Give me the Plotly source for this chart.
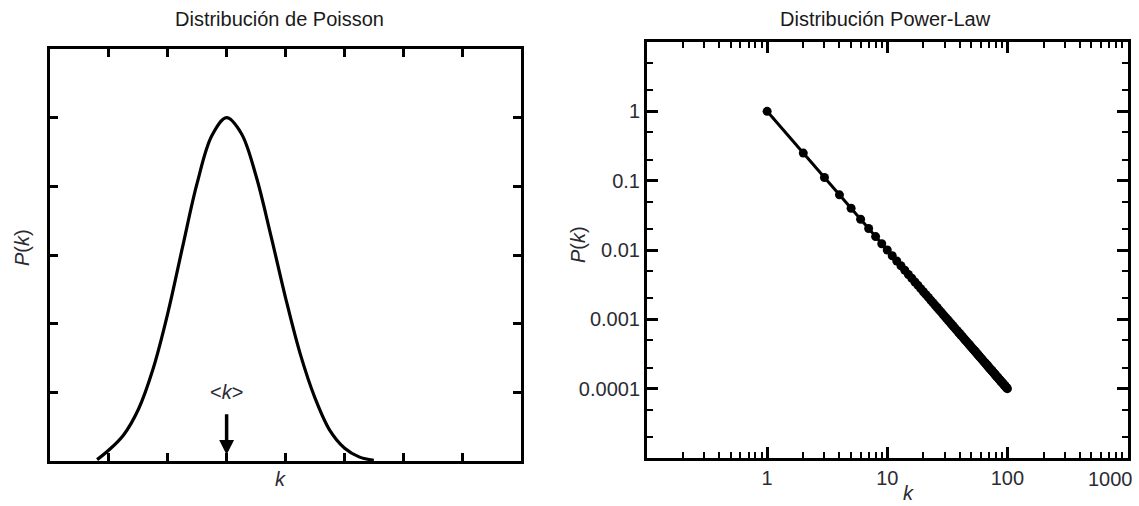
import plotly.graph_objects as go

W, H = 1139, 506

# ---- Left panel: Poisson-like bell curve (axis units: x 0..8, y 0..6) ----
pois_k = [0.8, 1.0, 1.25, 1.5, 1.75, 2.0, 2.25, 2.5, 2.75, 3.0,
          3.25, 3.5, 3.75, 4.0, 4.25, 4.5, 4.75, 5.0, 5.25, 5.5]
pois_p = [0.02, 0.16, 0.38, 0.75, 1.34, 2.15, 3.11, 4.05, 4.74, 5.0,
          4.77, 4.15, 3.29, 2.38, 1.56, 0.92, 0.45, 0.19, 0.06, 0.01]
mean_k = 3

# ---- Right panel: power law (log-log) ----
pl_k = list(range(1, 101))
pl_p = [1, 0.25, 0.111, 0.0625, 0.04, 0.0278, 0.0204, 0.0156, 0.0123, 0.01,
        0.00826, 0.00694, 0.00592, 0.0051, 0.00444, 0.00391, 0.00346, 0.00309, 0.00277, 0.0025,
        0.00227, 0.00207, 0.00189, 0.00174, 0.0016, 0.00148, 0.00137, 0.00128, 0.00119, 0.00111,
        0.00104, 0.000977, 0.000918, 0.000865, 0.000816, 0.000772, 0.00073, 0.000693, 0.000657, 0.000625,
        0.000595, 0.000567, 0.000541, 0.000517, 0.000494, 0.000473, 0.000453, 0.000434, 0.000416, 0.0004,
        0.000384, 0.00037, 0.000356, 0.000343, 0.000331, 0.000319, 0.000308, 0.000297, 0.000287, 0.000278,
        0.000269, 0.00026, 0.000252, 0.000244, 0.000237, 0.00023, 0.000223, 0.000216, 0.00021, 0.000204,
        0.000198, 0.000193, 0.000188, 0.000183, 0.000178, 0.000173, 0.000169, 0.000164, 0.00016, 0.000156,
        0.000152, 0.000149, 0.000145, 0.000142, 0.000138, 0.000135, 0.000132, 0.000129, 0.000126, 0.000123,
        0.000121, 0.000118, 0.000116, 0.000113, 0.000111, 0.000109, 0.000106, 0.000104, 0.000102, 0.0001]

x_tickvals = [1, 10, 100, 1000]
x_ticktext = ["1", "10", "100", ""]   # "1000" is drawn as an annotation so it stays inside the page
last_x_label = "1000"
y_tickvals = [1, 0.1, 0.01, 0.001, 0.0001]
y_ticktext = ["1", "0.1", "0.01", "0.001", "0.0001"]

FONT = "Liberation Sans, Arial, sans-serif"
TXT = "#2b2b33"
FS = 20

fig = go.Figure()
fig.add_trace(go.Scatter(x=pois_k, y=pois_p, mode="lines",
                         line=dict(color="black", width=3.2, shape="spline", smoothing=1.0),
                         xaxis="x", yaxis="y", showlegend=False, hoverinfo="skip"))
fig.add_trace(go.Scatter(x=pl_k, y=pl_p, mode="lines+markers",
                         line=dict(color="black", width=3),
                         marker=dict(color="black", size=9),
                         xaxis="x2", yaxis="y2", showlegend=False))

def px_x(p):
    return p / W

def px_y(p):
    return 1 - p / H

frame = dict(showline=True, linecolor="black", linewidth=3, mirror="allticks",
             showgrid=False, zeroline=False, ticks="inside", tickcolor="black")

fig.update_layout(
    width=W, height=H, margin=dict(l=0, r=0, t=0, b=0),
    paper_bgcolor="white", plot_bgcolor="white",
    font=dict(family=FONT, color=TXT, size=FS),
    xaxis=dict(domain=[px_x(50), px_x(521)], range=[0, 8], tickvals=[1, 2, 3, 4, 5, 6, 7],
               showticklabels=False, ticklen=8, tickwidth=2.5, anchor="y", **frame),
    yaxis=dict(domain=[px_y(461), px_y(49)], range=[0, 6], tickvals=[1, 2, 3, 4, 5],
               showticklabels=False, ticklen=8, tickwidth=2.5, anchor="x", **frame),
    xaxis2=dict(domain=[px_x(647), px_x(1128)], type="log", range=[-1, 3.004],
                tickvals=x_tickvals, ticktext=x_ticktext, ticklen=11, tickwidth=2.5,
                minor=dict(ticks="inside", ticklen=6, tickwidth=2, tickcolor="black", dtick="D1", showgrid=False),
                tickfont=dict(size=FS, color=TXT), anchor="y2", **frame),
    yaxis2=dict(domain=[px_y(458), px_y(42)], type="log", range=[-5, 1],
                tickvals=y_tickvals, ticktext=y_ticktext, ticklen=11, tickwidth=2.5,
                minor=dict(ticks="inside", ticklen=6, tickwidth=2, tickcolor="black", dtick="D2", showgrid=False),
                tickfont=dict(size=FS, color=TXT), anchor="x2", **frame),
)

def txt(text, x, y, size=FS, angle=0, color=TXT, xref="paper"):
    return dict(text=text, x=x, y=y, xref=xref, yref="paper", showarrow=False,
                xanchor="center", yanchor="middle", textangle=angle,
                font=dict(size=size, color=color))

ann = [
    txt("Distribución de Poisson", px_x(279), px_y(19), color="#1a1a1a"),
    txt("Distribución Power-Law", px_x(885), px_y(19), color="#1a1a1a"),
    txt("<i>P</i>(<i>k</i>)", px_x(22), px_y(248), angle=-90),
    txt("<i>P</i>(<i>k</i>)", px_x(578), px_y(245), angle=-90),
    txt("<i>k</i>", px_x(280), px_y(479)),
    txt("<i>k</i>", px_x(908), px_y(493)),
    txt("&lt;<i>k</i>&gt;", mean_k, px_y(392), xref="x"),
    dict(text=last_x_label, x=3, y=px_y(479), xref="x2", yref="paper", showarrow=False,
         xanchor="center", yanchor="middle", xshift=-17, font=dict(size=FS, color=TXT)),
    dict(text="", x=mean_k, y=0.09, xref="x", yref="y", showarrow=True,
         ax=0, ay=-42, arrowhead=2, arrowwidth=3.5, arrowsize=0.85,
         arrowcolor="black", standoff=0, startstandoff=0),
]
fig.update_layout(annotations=ann)

fig.write_html("out.html")
